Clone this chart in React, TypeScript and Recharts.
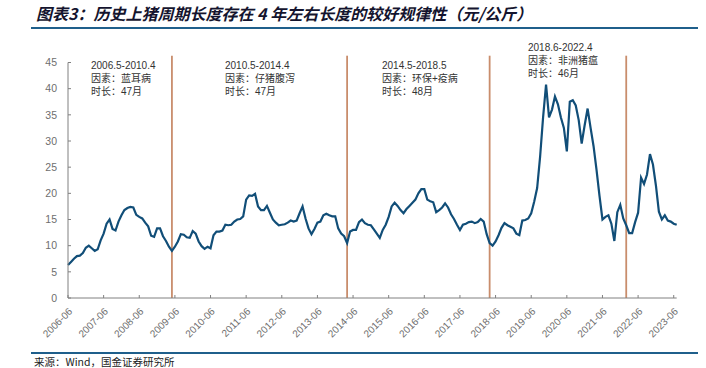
import React from 'react';
import { LineChart, Line, XAxis, YAxis, ReferenceLine } from 'recharts';

// Monthly pig price (元/公斤), each array runs June..May of the next year
const p2006 = [6.3, 6.9, 7.5, 8.0, 8.1, 8.6, 9.6, 10.0, 9.5, 9.0, 9.3, 11.0];
const p2007 = [12.3, 14.2, 15.0, 13.2, 12.9, 14.6, 15.8, 16.8, 17.2, 17.4, 17.3, 15.9];
const p2008 = [15.5, 15.2, 14.4, 13.7, 11.9, 11.7, 13.3, 13.3, 11.8, 10.9, 9.8, 9.0];
const p2009 = [9.8, 10.8, 12.2, 12.1, 11.6, 11.5, 12.8, 12.3, 10.8, 9.9, 9.4, 9.8];
const p2010 = [9.5, 12.0, 12.7, 12.7, 12.9, 14.0, 13.9, 14.0, 14.6, 15.0, 15.1, 15.6];
const p2011 = [18.8, 19.6, 19.5, 19.9, 17.5, 16.8, 16.8, 17.6, 16.3, 15.0, 14.4, 13.9];
const p2012 = [14.0, 14.1, 14.4, 14.8, 14.6, 14.8, 16.2, 17.5, 15.2, 13.3, 12.2, 13.2];
const p2013 = [14.4, 14.6, 15.8, 16.1, 15.8, 15.6, 15.6, 13.3, 12.3, 11.8, 10.5, 12.7];
const p2014 = [13.0, 13.0, 14.5, 15.0, 14.3, 14.0, 13.9, 13.1, 12.3, 11.5, 13.0, 14.0];
const p2015 = [15.5, 17.5, 18.2, 17.6, 16.8, 16.2, 17.0, 17.6, 18.2, 18.8, 20.0, 20.8];
const p2016 = [20.8, 18.8, 18.5, 18.3, 16.4, 16.8, 17.3, 18.1, 17.3, 16.0, 15.1, 14.0];
const p2017 = [13.0, 14.0, 14.2, 14.5, 14.6, 14.3, 14.5, 15.1, 14.6, 12.2, 10.5, 10.0];
const p2018 = [10.8, 12.0, 13.4, 14.3, 13.9, 13.6, 13.3, 12.3, 12.0, 14.8, 14.9, 15.2];
const p2019 = [16.2, 18.4, 21.0, 27.0, 34.5, 40.8, 34.5, 36.0, 38.5, 37.0, 34.5, 32.5];
const p2020 = [28.0, 37.5, 37.8, 36.8, 34.0, 29.5, 33.0, 36.2, 32.5, 29.0, 24.5, 19.5];
const p2021 = [15.0, 15.5, 15.8, 14.2, 10.9, 16.4, 17.8, 15.2, 13.9, 12.4, 12.4, 14.5];
const p2022 = [16.3, 23.0, 21.8, 23.6, 27.5, 25.5, 21.5, 16.5, 15.0, 15.8, 14.8, 14.6];
const p2023 = [14.2, 14.0];

const prices = [
  ...p2006, ...p2007, ...p2008, ...p2009, ...p2010, ...p2011, ...p2012, ...p2013, ...p2014,
  ...p2015, ...p2016, ...p2017, ...p2018, ...p2019, ...p2020, ...p2021, ...p2022, ...p2023,
];

const startYear = 2006;
const startMonth = 6;
const months = prices.map((_, i) => {
  const t = startMonth - 1 + i;
  const y = startYear + Math.floor(t / 12);
  const m = (t % 12) + 1;
  return `${y}-${String(m).padStart(2, '0')}`;
});

const yTicks = [0, 5, 10, 15, 20, 25, 30, 35, 40, 45];
const cycleBreaks = ['2009-05', '2014-04', '2018-04', '2022-02'];

const notes = [
  { x: 91, top: 58.5, lines: ['2006.5-2010.4', '因素：蓝耳病', '时长：47月'] },
  { x: 225, top: 58.5, lines: ['2010.5-2014.4', '因素：仔猪腹泻', '时长：47月'] },
  { x: 382, top: 58.5, lines: ['2014.5-2018.5', '因素：环保+疫病', '时长：48月'] },
  { x: 528, top: 40.5, lines: ['2018.6-2022.4', '因素：非洲猪瘟', '时长：46月'] },
];

const data = months.map((m, i) => ({ month: m, price: prices[i] }));

const App = () => {
  return (
    <div style={{ position: 'absolute', left: 0, top: 0, width: 706, height: 368, background: '#fff', overflow: 'hidden' }}>
      <div
        style={{
          position: 'absolute', left: 36, top: 2, fontFamily: '"Noto Sans CJK SC", sans-serif',
          fontSize: 16, fontWeight: 'bold', fontStyle: 'italic', color: '#14142e', whiteSpace: 'nowrap', lineHeight: '22px',
        }}
      >
        图表3：历史上猪周期长度存在 4 年左右长度的较好规律性（元/公斤）
      </div>
      <div style={{ position: 'absolute', left: 31, top: 27, width: 667, height: 2, background: '#1f5f8b' }} />
      <LineChart width={706} height={368} data={data} margin={{ top: 62.5, right: 29.3, bottom: 20, left: 28 }}>
        <XAxis
          dataKey="month"
          scale="point"
          interval={11}
          height={50}
          tickSize={-3}
          tickMargin={12}
          angle={-45}
          textAnchor="end"
          stroke="#808080"
          tick={{ fontSize: 10, fill: '#6e6e6e', fontFamily: '"Liberation Sans", Arial, sans-serif' }}
        />
        <YAxis
          domain={[0, 45]}
          ticks={yTicks}
          width={40}
          tickSize={-3}
          tickMargin={14}
          stroke="#808080"
          tick={{ fontSize: 10.5, fill: '#6e6e6e', fontFamily: '"Liberation Sans", Arial, sans-serif' }}
        />
        {cycleBreaks.map((b) => (
          <ReferenceLine
            key={b}
            segment={[{ x: b, y: 0 }, { x: b, y: 46.3 }]}
            ifOverflow="visible"
            stroke="#c98d6c"
            strokeWidth={1.8}
          />
        ))}
        <Line
          type="linear"
          dataKey="price"
          stroke="#114e78"
          strokeWidth={2.2}
          dot={false}
          isAnimationActive={false}
        />
      </LineChart>
      {notes.map((n) => (
        <div
          key={n.x}
          style={{
            position: 'absolute', left: n.x, top: n.top, fontSize: 10, lineHeight: '13px', color: '#333',
            fontFamily: '"Liberation Sans", "Noto Sans CJK SC", sans-serif', whiteSpace: 'nowrap',
          }}
        >
          {n.lines.map((l) => (
            <div key={l}>{l}</div>
          ))}
        </div>
      ))}
      <div style={{ position: 'absolute', left: 31, top: 352, width: 667, height: 2, background: '#1f5f8b' }} />
      <div
        style={{
          position: 'absolute', left: 34, top: 355, fontSize: 10.5, lineHeight: '13px', color: '#222',
          fontFamily: '"Noto Sans CJK SC", sans-serif', whiteSpace: 'nowrap',
        }}
      >
        来源：Wind，国金证券研究所
      </div>
    </div>
  );
};

export default App;
